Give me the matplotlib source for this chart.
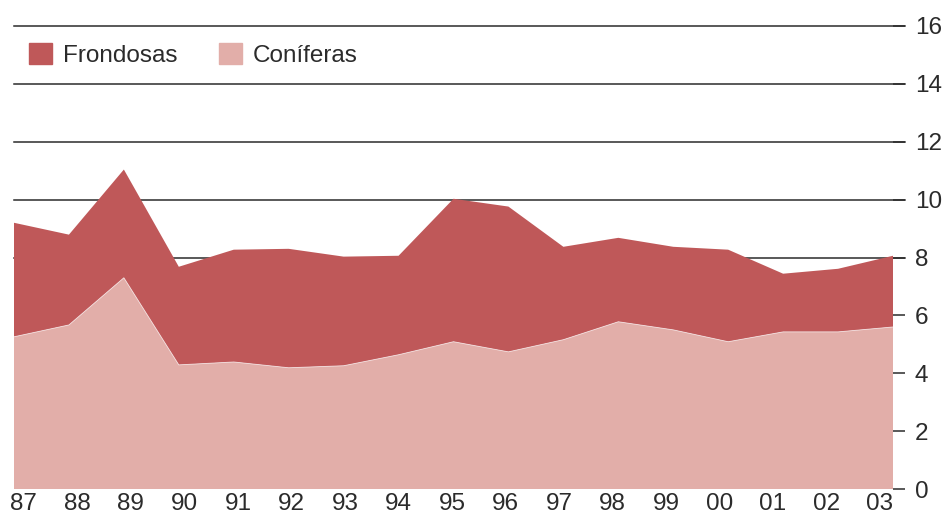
import matplotlib
matplotlib.use("Agg")
import matplotlib.pyplot as plt
import matplotlib.patches as mpatches

plt.rcParams['font.family'] = ['Liberation Sans', 'DejaVu Sans']

# Years (two-digit labels) and values
years = ['87', '88', '89', '90', '91', '92', '93', '94', '95',
         '96', '97', '98', '99', '00', '01', '02', '03']
coniferas = [5.26, 5.67, 7.30, 4.29, 4.39, 4.19, 4.26, 4.64, 5.09,
             4.74, 5.16, 5.78, 5.50, 5.09, 5.43, 5.43, 5.60]
total = [9.20, 8.79, 11.04, 7.68, 8.27, 8.30, 8.03, 8.06, 10.03,
         9.76, 8.37, 8.68, 8.37, 8.27, 7.44, 7.61, 8.06]
frondosas = [t - c for t, c in zip(total, coniferas)]

dark = '#BF5859'
light = '#E2AEA9'
ink = '#2b2b2b'

fig = plt.figure(figsize=(9.43, 5.17), dpi=100)
ax = fig.add_axes([14 / 943, 28 / 517, 879 / 943, 463 / 517])

x = list(range(len(years)))

# gridlines behind the areas, extending a bit past the right edge
for v in [8, 10, 12, 14, 16]:
    ax.axhline(v, xmin=0, xmax=1 + 12 / 879, color=ink, lw=1.1,
               zorder=0, clip_on=False)

ax.stackplot(x, coniferas, frondosas, colors=[light, dark], zorder=2,
             linewidth=0)
ax.plot(x, coniferas, color='white', lw=0.6, zorder=3, alpha=0.7)

ax.set_xlim(0, len(years) - 1)
ax.set_ylim(0, 16)

ax.set_yticks(range(0, 17, 2))
ax.yaxis.tick_right()
ax.tick_params(axis='y', length=8.6, width=1.1, color=ink, pad=7,
               labelsize=17.5, labelcolor=ink)

# year labels sit slightly right of the data points, evenly spread
ax.set_xticks([0.18 + 0.974 * i for i in x])
ax.set_xticklabels(years)
ax.tick_params(axis='x', length=0, pad=3, labelsize=17.5, labelcolor=ink)

for s in ax.spines.values():
    s.set_visible(False)

handles = [mpatches.Patch(color=dark, label='Frondosas'),
           mpatches.Patch(color=light, label='Coníferas')]
ax.legend(handles=handles, loc='center left',
          bbox_to_anchor=(29 / 943, 1 - 55 / 517),
          bbox_transform=fig.transFigure, ncol=2, frameon=False,
          fontsize=17.5, handlelength=0.95, handleheight=0.95,
          handletextpad=0.45, columnspacing=1.7, borderpad=0,
          borderaxespad=0, labelcolor=ink)

fig.savefig('out.png', dpi=100)
